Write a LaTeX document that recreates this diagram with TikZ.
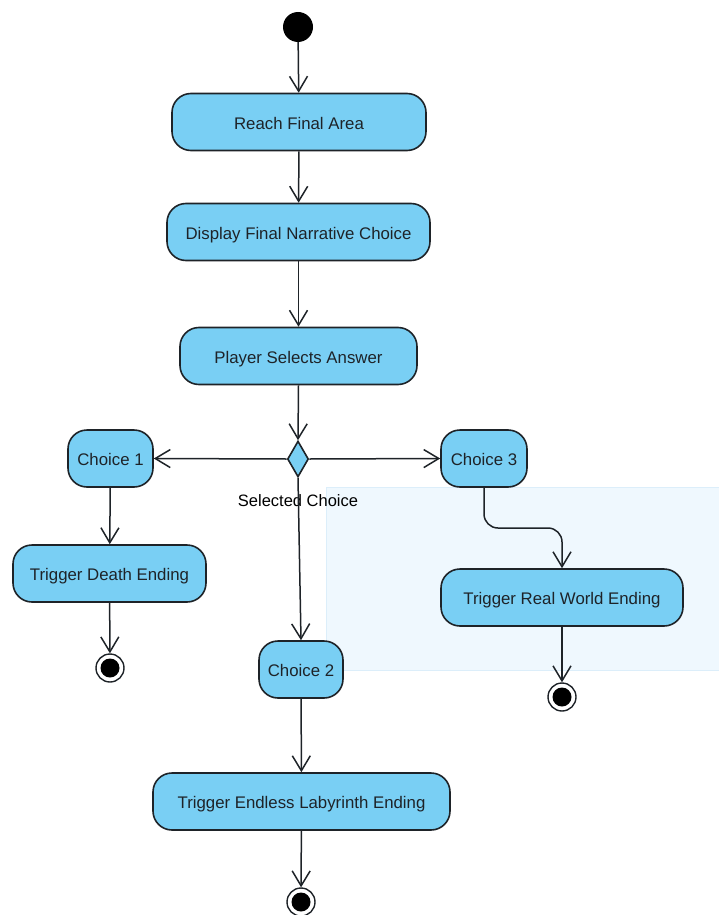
\documentclass[tikz,border=0pt]{standalone}
\usepackage{fontspec}
\setmainfont{Liberation Sans}
\usetikzlibrary{arrows.meta,shapes.geometric}
\definecolor{actfill}{HTML}{79CFF4}
\definecolor{actline}{HTML}{1E2328}
\definecolor{regionfill}{HTML}{EFF8FE}
\definecolor{regionline}{HTML}{DCEEFA}
\begin{document}
\begin{tikzpicture}[x=1pt,y=-1pt,
  action/.style={draw=actline,fill=actfill,line width=1.6pt,rounded corners=19pt,
    minimum height=57pt,inner sep=0pt,text height=14pt,text depth=0pt,
    font=\fontsize{16.8}{19}\selectfont,text=actline},
  decision/.style={draw=actline,fill=actfill,line width=1.6pt,diamond,aspect=0.55,
    minimum width=21pt,minimum height=36pt,inner sep=0pt},
  startnode/.style={circle,fill=black,minimum size=30pt,inner sep=0pt},
  endnode/.style={circle,draw=actline,fill=white,line width=1.4pt,minimum size=28pt,inner sep=0pt,
    path picture={\fill[black] (path picture bounding box.center) circle (9.5pt);}},
  flow/.style={draw=actline,line width=1.5pt,-{Straight Barb[length=15pt,width=18pt,line width=1.5pt]}},
  lbl/.style={font=\fontsize{16.5}{19}\selectfont,text=black,text height=14pt,text depth=0pt,inner sep=0pt}
]
\useasboundingbox (0,0) rectangle (719,915);

% swimlane-like highlighted region
\draw[fill=regionfill,draw=regionline,line width=1pt] (326,487) rectangle (719,670);

% nodes
\node[startnode] (start) at (298,27) {};
\node[action,minimum width=254pt] (reach) at (299,122) {Reach Final Area};
\node[action,minimum width=263pt] (display) at (298.5,232) {Display Final Narrative Choice};
\node[action,minimum width=237pt] (select) at (298.5,356) {Player Selects Answer};
\node[decision] (dec) at (298,459) {};
\node[lbl] (declbl) at (298,499) {Selected Choice};
\node[action,minimum width=85pt] (c1) at (110.5,458.5) {Choice 1};
\node[action,minimum width=86pt] (c3) at (484,458.5) {Choice 3};
\node[action,minimum width=84pt] (c2) at (301,669.5) {Choice 2};
\node[action,minimum width=193pt] (death) at (109.5,573.5) {Trigger Death Ending};
\node[action,minimum width=242pt] (real) at (562,597.5) {Trigger Real World Ending};
\node[action,minimum width=297pt] (laby) at (301.5,801.5) {Trigger Endless Labyrinth Ending};
\node[endnode] (end1) at (110,668) {};
\node[endnode] (end3) at (562,697) {};
\node[endnode] (end2) at (301,902) {};

% control flows
\draw[flow] (start) -- (reach);
\draw[flow] (reach) -- (display);
\draw[flow] (display) -- (select);
\draw[flow] (select.south) -- (dec.north);
\draw[flow] (dec.west) -- (c1.east);
\draw[flow] (dec.east) -- (c3.west);
\draw[flow] (dec.south) -- (c2.north);
\draw[flow] (c1) -- (death);
\draw[flow] (death) -- (end1);
\draw[flow,rounded corners=14pt] (c3.south) -- (c3.south |- 0,528) -| (real.north);
\draw[flow] (real) -- (end3);
\draw[flow] (c2) -- (laby);
\draw[flow] (laby) -- (end2);
\end{tikzpicture}
\end{document}
